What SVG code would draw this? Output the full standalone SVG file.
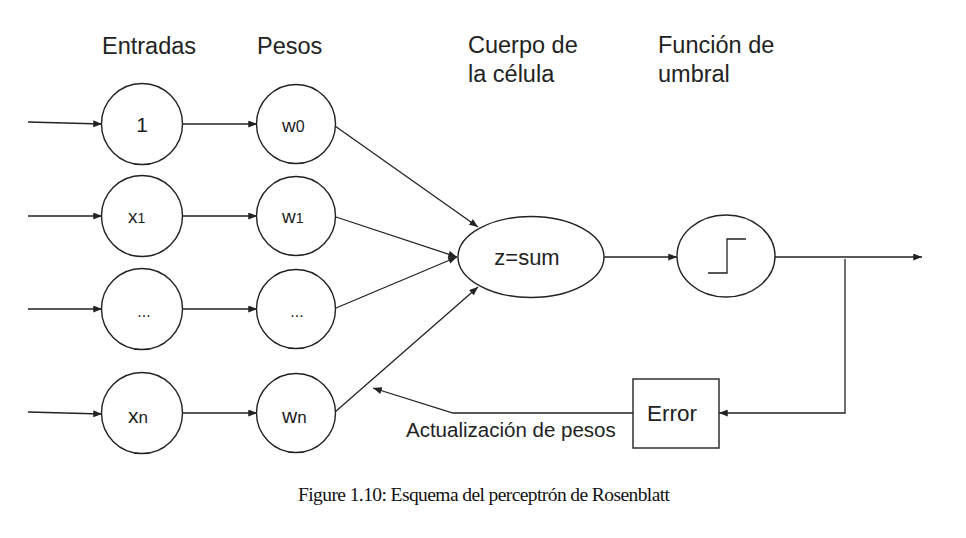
<svg xmlns="http://www.w3.org/2000/svg" width="966" height="538" viewBox="0 0 966 538">
<style>
.n{fill:#fff;stroke:#222;stroke-width:1.4}
.c{fill:none;stroke:#222;stroke-width:1.3}
.t{font-family:"Liberation Sans",Arial,sans-serif;fill:#222}
.h{font-size:23.5px}
.lab{font-size:20px;text-anchor:middle}
.sub{font-size:14px}
.cap{font-family:"Liberation Serif","Times New Roman",serif;font-size:19.5px;fill:#111}
</style>
<defs>
<marker id="a" viewBox="0 0 10 8" refX="10" refY="4" markerWidth="9" markerHeight="7" markerUnits="userSpaceOnUse" orient="auto">
<path d="M0,0 L10,4 L0,8 z" fill="#222"/>
</marker>
</defs>
<rect width="966" height="538" fill="#fff"/>
<g id="headers" class="t h">
<text x="102" y="54">Entradas</text>
<text x="257" y="54">Pesos</text>
<text x="468" y="53">Cuerpo de</text>
<text x="468" y="82">la célula</text>
<text x="658" y="53">Función de</text>
<text x="658" y="82">umbral</text>
</g>
<g id="connectors" class="c">
<path d="M28,122 L102,124" marker-end="url(#a)"/>
<path d="M28,216 L102,216" marker-end="url(#a)"/>
<path d="M28,309 L102,309" marker-end="url(#a)"/>
<path d="M28,412 L102,414" marker-end="url(#a)"/>
<path d="M183,124 L257,124" marker-end="url(#a)"/>
<path d="M183,216 L257,216" marker-end="url(#a)"/>
<path d="M183,309 L257,309" marker-end="url(#a)"/>
<path d="M183,413 L257,413" marker-end="url(#a)"/>
<path d="M335,126 L478,227" marker-end="url(#a)"/>
<path d="M336,217 L457,257" marker-end="url(#a)"/>
<path d="M336,308 L457,257" marker-end="url(#a)"/>
<path d="M335,412 L478,287" marker-end="url(#a)"/>
<path d="M604,257 L677,257" marker-end="url(#a)"/>
<path d="M775,257 L922,257" marker-end="url(#a)"/>
<path d="M845,259 L845,413 L719,413" marker-end="url(#a)"/>
<path d="M633,413 L453,413 L373,388" marker-end="url(#a)"/>
</g>
<g id="in1"><circle class="n" cx="142" cy="124" r="40.5"/><text class="t lab" x="142" y="132" style="font-size:21px">1</text></g>
<g id="in2"><circle class="n" cx="142" cy="216" r="40.5"/><text class="t" x="128" y="223" style="font-size:19px">x<tspan class="sub">1</tspan></text></g>
<g id="in3"><circle class="n" cx="142" cy="309" r="40.5"/><text class="t lab" x="144" y="317" style="font-size:16px">...</text></g>
<g id="in4"><circle class="n" cx="142" cy="413" r="40.5"/><text class="t" x="128" y="423" style="font-size:21px">x<tspan style="font-size:17px">n</tspan></text></g>
<g id="w0"><circle class="n" cx="296" cy="124" r="39.5"/><text class="t" x="282" y="132" style="font-size:19px">w<tspan style="font-size:16px">0</tspan></text></g>
<g id="w1"><circle class="n" cx="296" cy="216" r="39.5"/><text class="t" x="282" y="223" style="font-size:19px">w<tspan class="sub">1</tspan></text></g>
<g id="w2"><circle class="n" cx="296" cy="309" r="39.5"/><text class="t lab" x="297" y="317" style="font-size:16px">...</text></g>
<g id="wn"><circle class="n" cx="296" cy="413" r="39.5"/><text class="t" x="282" y="423" style="font-size:21px">w<tspan style="font-size:17px">n</tspan></text></g>
<g id="sum"><ellipse class="n" cx="531" cy="257" rx="73" ry="40.5"/><text class="t lab" x="527" y="265" style="font-size:22px">z=sum</text></g>
<g id="threshold"><ellipse class="n" cx="726" cy="256" rx="49" ry="41"/><path class="c" d="M708,273 L727,273 L727,239 L746,239"/></g>
<g id="error"><rect class="n" x="633" y="379" width="86" height="69"/><text class="t lab" x="672" y="421" style="font-size:22.5px">Error</text></g>
<text id="update-label" class="t" x="406" y="437" style="font-size:20.5px">Actualización de pesos</text>
<text id="caption" class="cap" x="298" y="501" textLength="372" lengthAdjust="spacing">Figure 1.10: Esquema del perceptrón de Rosenblatt</text>
</svg>
